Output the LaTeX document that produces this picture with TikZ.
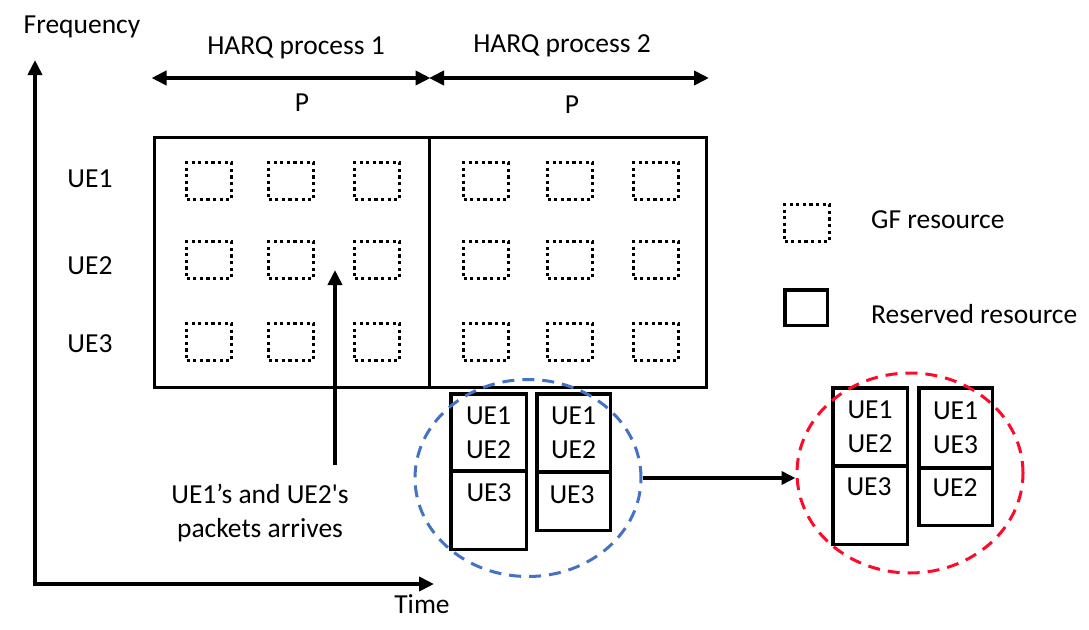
\documentclass[tikz,border=0pt]{standalone}
\usepackage{fontspec}
\setmainfont{Carlito}
\newfontfamily\rawfont{Carlito}
\usepackage{tikz}
\usetikzlibrary{shapes.geometric,arrows.meta}
\definecolor{ovalblue}{RGB}{68,114,196}
\definecolor{ovalred}{RGB}{255,10,40}

\begin{document}
\begin{tikzpicture}[x=1pt,y=-1pt,
  txt/.style={font=\fontsize{27.5}{34}\selectfont, inner sep=0pt, align=center},
  gfbox/.style={draw, line width=3.2pt, dash pattern=on 3.2pt off 3.4pt, minimum width=45pt, minimum height=37pt, inner sep=0pt},
  harq/.style={draw, line width=3pt, minimum height=250pt, inner sep=0pt},
  cell/.style={draw, line width=3.5pt, inner sep=0pt, outer sep=0pt, txt},
  oval/.style={draw, ellipse, line width=3pt, dash pattern=on 12pt off 8pt, inner sep=0pt},
  arr/.style={line width=4pt, -{Triangle[length=15pt,width=14pt]}},
  dbl/.style={line width=4pt, {Triangle[length=15pt,width=14pt]}-{Triangle[length=15pt,width=14pt]}}]
\useasboundingbox (0,0) rectangle (1089,629);

% axes
\coordinate (o) at (35,584);
\coordinate (ftop) at (35,60);
\coordinate (tend) at (434,584);
\draw[arr] (o) -- (ftop);
\draw[arr] ([xshift=-2pt]o) -- (tend);
\node[txt] (freq) at (82,27) {Frequency};
\node[txt] (time) at (422,604) {Time};

% HARQ processes
\node[harq, minimum width=274.5pt] (hp1) at (291.75,262.5) {};
\node[harq, minimum width=277pt] (hp2) at (567.5,262.5) {};
\draw[dbl] ([shift={(-1.5pt,58pt)}]hp1.north west) -- ([yshift=58pt]hp1.north east);
\draw[dbl] ([shift={(1.5pt,58pt)}]hp2.north west) -- ([shift={(1.5pt,58pt)}]hp2.north east);
\node[txt] (h1) at (296,48) {HARQ process 1};
\node[txt] (h2) at (562,46) {HARQ process 2};
\node[txt] (p1) at (302,103) {P};
\node[txt] (p2) at (572,105) {P};

\node[txt] (ue1) at (90,179) {UE1};
\node[txt] (ue2) at (90,266) {UE2};
\node[txt] (ue3) at (90,344) {UE3};

% GF resources
\foreach \r/\y in {1/181,2/260,3/342}{
  \foreach \c/\x in {1/209,2/291,3/377,4/486,5/570,6/656}{
    \node[gfbox] (gf\r\c) at (\x,\y) {};
  }
}

% packet arrival
\node[txt] (arrive) at (260,513) {UE1’s and UE2{\rawfont '}s\\packets arrives};
\coordinate (arrfrom) at (335,465);
\coordinate (arrto) at (335,270);
\draw[arr] (arrfrom) -- (arrto);

% reserved resources, before
\node[cell, minimum width=75.5pt, minimum height=77.25pt, anchor=north] (a1) at (488.5,393.75) {UE1\\UE2};
\node[cell, minimum width=75.5pt, minimum height=78.25pt, anchor=north] (a2) at (a1.south) {};
\node[txt] (a2t) at (489,493) {UE3};
\node[cell, minimum width=73.5pt, minimum height=78.25pt, anchor=north] (b1) at (573.5,393.75) {UE1\\UE2};
\node[cell, minimum width=73.5pt, minimum height=58.25pt, anchor=north] (b2) at (b1.south) {};
\node[txt] (b2t) at (572,495) {UE3};
\node[oval, ovalblue, minimum width=226pt, minimum height=197pt] (before) at (528,478) {};

% reserved resources, after
\node[cell, minimum width=74.5pt, minimum height=78.25pt, anchor=north] (c1) at (870,387.75) {UE1\\UE2};
\node[cell, minimum width=74.5pt, minimum height=78.25pt, anchor=north] (c2) at (c1.south) {};
\node[txt] (c2t) at (869,487) {UE3};
\node[cell, minimum width=73.5pt, minimum height=80.25pt, anchor=north] (d1) at (955.5,387.75) {UE1\\UE3};
\node[cell, minimum width=73.5pt, minimum height=57.25pt, anchor=north] (d2) at (d1.south) {};
\node[txt] (d2t) at (955,488) {UE2};
\node[oval, ovalred, minimum width=226pt, minimum height=200pt] (after) at (910,473) {};

\draw[line width=3.5pt, -{Triangle[length=14pt,width=13pt]}] (before.east) -- (before.east -| after.west);

% legend
\node[gfbox] (gfkey) at (807,223) {};
\node[draw, line width=3.5pt, minimum width=42.5pt, minimum height=35.5pt, inner sep=0pt] (reskey) at (806,307.5) {};
\node[txt, anchor=west] (gftxt) at (871,220) {GF resource};
\node[txt, anchor=west] (restxt) at (871,314) {Reserved resource};

\end{tikzpicture}
\end{document}
